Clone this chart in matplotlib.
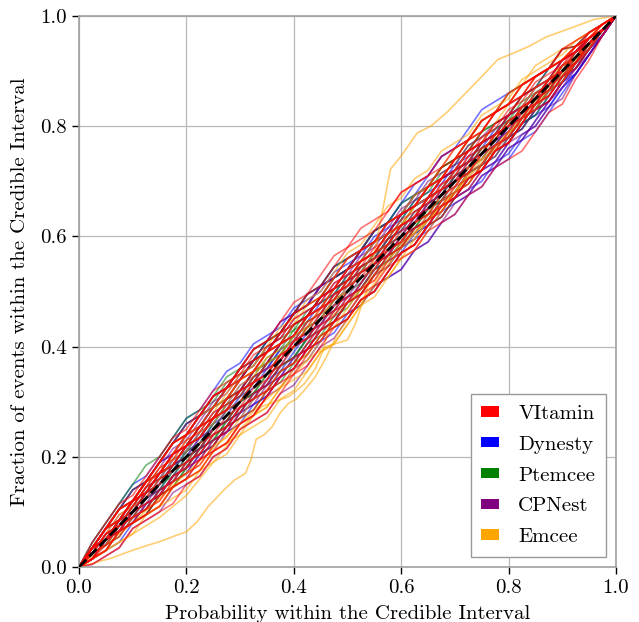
import matplotlib
matplotlib.use("Agg")
import matplotlib.pyplot as plt
import matplotlib.patches as mpatches
import matplotlib.ticker as mticker
import numpy as np

plt.rcParams["font.family"] = ["cmr10", "DejaVu Serif"]
plt.rcParams["mathtext.fontset"] = "cm"
plt.rcParams["axes.formatter.use_mathtext"] = True

# Credible-interval levels (x) at which every P-P curve is evaluated
pp_grid = [0.000, 0.025, 0.050, 0.075, 0.100, 0.125, 0.150, 0.175, 0.200, 0.225,
           0.250, 0.275, 0.300, 0.325, 0.350, 0.375, 0.400, 0.425, 0.450, 0.475,
           0.500, 0.525, 0.550, 0.575, 0.600, 0.625, 0.650, 0.675, 0.700, 0.725,
           0.750, 0.775, 0.800, 0.825, 0.850, 0.875, 0.900, 0.925, 0.950, 0.975,
           1.000]

# Offset of each curve from the diagonal (units of 0.01) at the interior levels,
# one row per source parameter
vitamin_dev = [
    [1, 2, 1, 2, 3, 2, 3, 4, 3, 4, 5, 4, 5, 4, 5, 6, 5, 4, 5, 6, 5, 4, 5, 4, 3, 4, 3, 4, 3, 2, 3, 2, 3, 2, 1, 2, 1, 1, 0],
    [-1, -1, -2, -1, -2, -3, -2, -3, -4, -3, -2, -3, -4, -3, -4, -5, -4, -3, -4, -5, -4, -5, -4, -3, -4, -3, -2, -3, -4, -3, -2, -3, -2, -1, -2, -1, -1, 0, 0],
    [1, 2, 3, 2, 3, 4, 5, 4, 5, 6, 5, 6, 7, 6, 5, 6, 7, 6, 7, 8, 7, 6, 7, 8, 7, 6, 5, 6, 5, 4, 5, 4, 3, 4, 3, 2, 2, 1, 1],
    [0, 1, 0, -1, 0, 1, 0, -1, -2, -1, 0, -1, -2, -1, 0, 1, 0, 1, 2, 1, 2, 1, 0, 1, 0, -1, 0, -1, 0, 1, 0, 1, 0, -1, 0, 0, 1, 0, 0],
    [1, 0, 1, 2, 1, 2, 3, 2, 1, 2, 3, 2, 3, 4, 3, 4, 3, 2, 3, 2, 3, 2, 1, 2, 1, 2, 1, 0, 1, 2, 1, 0, 1, 0, 1, 0, 0, 1, 0],
    [-1, 0, -1, -2, -1, -2, -1, -2, -3, -2, -3, -2, -1, -2, -1, -2, -3, -2, -3, -4, -3, -4, -3, -4, -5, -4, -5, -6, -5, -6, -5, -6, -7, -6, -5, -6, -4, -3, -1],
    [1, 2, 1, 2, 1, 2, 3, 2, 3, 2, 1, 2, 1, 2, 3, 2, 3, 4, 3, 4, 5, 4, 5, 4, 3, 4, 3, 4, 5, 4, 5, 4, 3, 4, 3, 2, 1, 2, 1],
    [0, 1, 0, 1, 2, 1, 0, -1, 0, -1, -2, -1, -2, -3, -2, -3, -2, -1, -2, -1, -2, -1, 0, -1, 0, 1, 2, 1, 2, 3, 2, 3, 2, 3, 2, 1, 2, 1, 0],
    [-1, 0, -1, 0, -1, -2, -1, -2, -1, 0, -1, 0, 1, 0, 1, 0, -1, 0, -1, 0, 1, 0, 1, 2, 1, 2, 3, 2, 3, 2, 1, 2, 1, 0, 1, 0, -1, 0, 0],
    [1, 2, 3, 2, 3, 4, 5, 4, 5, 6, 5, 6, 5, 4, 5, 4, 3, 4, 3, 4, 3, 2, 3, 2, 1, 2, 1, 2, 1, 0, 1, 0, -1, 0, -1, 0, 0, 1, 0],
    [-1, -2, -1, -2, -3, -4, -3, -4, -3, -4, -5, -4, -5, -4, -3, -4, -3, -2, -3, -2, -3, -2, -1, -2, -1, -2, -3, -2, -3, -2, -1, -2, -1, 0, -1, 0, -1, 0, 0],
    [1, 0, 1, 2, 1, 2, 1, 2, 3, 2, 3, 4, 3, 4, 3, 2, 3, 2, 1, 2, 1, 0, 1, 2, 1, 2, 3, 4, 3, 4, 5, 4, 5, 4, 3, 4, 2, 2, 1],
    [0, -1, 0, -1, -2, -1, -2, -1, -2, -1, -2, -1, 0, -1, 0, 1, 2, 1, 2, 1, 0, 1, 0, -1, 0, -1, -2, -1, -2, -3, -2, -3, -2, -1, -2, -1, -2, -1, 0],
    [1, 2, 3, 2, 3, 4, 5, 4, 5, 6, 5, 6, 7, 6, 7, 8, 7, 8, 9, 8, 9, 8, 7, 8, 7, 6, 7, 6, 5, 6, 5, 4, 5, 4, 3, 2, 2, 1, 1],
    [-1, 0, -1, 0, 1, 0, 1, 2, 1, 2, 1, 0, 1, 0, -1, 0, -1, -2, -1, -2, -1, 0, -1, 0, 1, 0, 1, 0, -1, 0, -1, -2, -1, -2, -3, -2, -1, -1, 0],
    [1, 0, 1, 0, 1, 2, 1, 2, 1, 2, 1, 2, 1, 0, 1, 0, 1, 2, 1, 2, 3, 2, 3, 4, 3, 4, 5, 4, 5, 6, 5, 6, 5, 4, 3, 4, 3, 2, 1],
    [0, 1, 0, 1, 2, 3, 2, 3, 2, 3, 2, 1, 2, 1, 0, 1, 0, -1, 0, -1, -2, -3, -2, -3, -4, -3, -4, -3, -2, -3, -2, -1, 0, -1, 0, 1, 1, 0, 0],
    [-1, -2, -1, -2, -3, -2, -3, -4, -5, -4, -5, -4, -5, -4, -3, -4, -3, -4, -3, -2, -3, -2, -1, -2, -1, -2, -1, 0, -1, 0, 1, 0, 1, 0, 1, 0, 1, 0, 0],
    [2, 3, 4, 3, 4, 5, 6, 5, 6, 7, 6, 5, 6, 5, 4, 5, 4, 3, 4, 3, 2, 3, 2, 3, 2, 1, 2, 1, 2, 1, 0, 1, 0, 1, 0, 1, 0, 0, 0],
    [-2, -3, -4, -3, -4, -5, -6, -5, -6, -5, -6, -5, -6, -7, -6, -5, -6, -5, -4, -5, -4, -5, -4, -3, -4, -3, -2, -3, -2, -3, -2, -3, -2, -1, -2, -1, -1, 0, 0],
]

dynesty_dev = [
    [1, 2, 1, 2, 3, 4, 3, 4, 5, 4, 5, 6, 5, 6, 7, 6, 7, 6, 7, 6, 5, 6, 5, 4, 5, 4, 3, 2, 3, 2, 1, 0, 1, 0, -1, 0, -1, -1, 0],
    [-1, 0, -1, -2, -1, -2, -1, -2, -3, -2, -3, -4, -3, -4, -3, -4, -5, -4, -5, -4, -5, -4, -5, -6, -5, -6, -5, -6, -5, -6, -5, -4, -5, -4, -3, -2, -3, -2, -1],
    [1, 2, 3, 2, 3, 2, 3, 4, 3, 4, 3, 4, 5, 4, 5, 6, 5, 6, 5, 4, 5, 4, 3, 4, 3, 2, 1, 2, 1, 0, -1, 0, -1, -2, -1, -2, -1, -1, 0],
    [0, -1, 0, -1, -2, -1, -2, -3, -2, -3, -2, -3, -2, -1, -2, -1, 0, -1, 0, -1, -2, -1, -2, -3, -2, -3, -4, -3, -4, -5, -4, -5, -4, -5, -4, -3, -3, -2, -1],
    [1, 0, 1, 2, 1, 2, 3, 2, 3, 4, 5, 4, 5, 6, 5, 6, 7, 6, 7, 6, 5, 6, 5, 6, 7, 6, 7, 6, 5, 6, 5, 4, 3, 2, 3, 2, 1, 1, 0],
    [0, 1, 0, 1, 0, -1, 0, 1, 0, 1, 2, 1, 2, 1, 0, 1, 0, -1, 0, -1, -2, -1, -2, -1, -2, -3, -2, -3, -4, -3, -4, -3, -2, -3, -2, -1, -2, -1, 0],
    [-1, 0, -1, 0, 1, 2, 1, 2, 1, 2, 3, 2, 3, 2, 3, 2, 3, 4, 3, 4, 3, 4, 3, 2, 3, 2, 3, 2, 1, 2, 1, 0, 1, 0, 1, 0, 0, 1, 0],
    [1, 2, 1, 2, 3, 2, 1, 2, 1, 0, -1, 0, -1, -2, -1, -2, -1, -2, -3, -2, -3, -2, -3, -2, -3, -4, -3, -4, -5, -4, -5, -6, -5, -6, -5, -4, -3, -2, -1],
    [-1, -2, -3, -2, -3, -2, -1, -2, -1, -2, -3, -2, -3, -4, -3, -4, -3, -2, -3, -2, -1, 0, -1, 0, 1, 0, -1, 0, -1, -2, -1, -2, -3, -2, -3, -2, -2, -1, -1],
    [1, 2, 3, 4, 3, 4, 5, 6, 5, 6, 5, 4, 5, 4, 5, 6, 5, 6, 5, 4, 5, 4, 3, 4, 3, 2, 1, 2, 1, 0, -1, 0, -1, -2, -1, -2, -1, -1, 0],
    [0, 1, 0, 1, 2, 1, 2, 1, 2, 3, 2, 3, 2, 1, 2, 1, 2, 3, 2, 3, 2, 1, 2, 1, 0, 1, 0, -1, 0, -1, -2, -3, -2, -3, -4, -3, -3, -2, -1],
    [-1, 0, -1, -2, -1, -2, -1, 0, -1, 0, -1, -2, -1, -2, -3, -2, -3, -4, -3, -4, -3, -2, -3, -2, -3, -2, -1, -2, -1, -2, -1, -2, -1, 0, -1, 0, 0, 0, 0],
    [1, 0, 1, 2, 1, 0, 1, 0, 1, 2, 1, 2, 3, 2, 3, 4, 3, 4, 5, 4, 5, 4, 5, 6, 5, 6, 7, 6, 7, 8, 7, 6, 5, 4, 3, 4, 2, 2, 1],
    [0, -1, 0, -1, 0, 1, 2, 1, 2, 1, 0, 1, 0, 1, 2, 1, 2, 1, 0, 1, 0, -1, 0, -1, 0, 1, 0, 1, 0, -1, 0, -1, 0, -1, 0, -1, 0, 0, 0],
    [2, 3, 4, 5, 4, 5, 6, 7, 6, 7, 8, 7, 8, 7, 6, 7, 6, 5, 6, 5, 4, 5, 4, 3, 4, 3, 2, 3, 2, 1, 2, 1, 0, 1, 0, -1, 0, 0, 0],
]

ptemcee_dev = [
    [1, 2, 3, 2, 3, 4, 5, 4, 5, 4, 5, 6, 5, 6, 5, 6, 7, 6, 7, 6, 5, 6, 5, 4, 5, 4, 5, 4, 3, 4, 3, 2, 3, 2, 1, 2, 1, 1, 0],
    [-1, 0, -1, -2, -3, -2, -3, -2, -1, -2, -1, -2, -1, 0, -1, -2, -1, -2, -3, -2, -3, -2, -1, -2, -1, -2, -3, -2, -3, -2, -1, -2, -1, -2, -1, 0, -1, 0, 0],
    [1, 0, 1, 2, 3, 2, 3, 2, 3, 4, 3, 4, 5, 4, 5, 4, 3, 4, 3, 2, 3, 2, 3, 4, 3, 4, 5, 4, 5, 6, 5, 6, 5, 4, 3, 4, 2, 2, 1],
    [0, -1, 0, -1, 0, -1, -2, -1, -2, -3, -2, -3, -4, -3, -4, -3, -2, -3, -2, -3, -2, -1, -2, -1, 0, -1, 0, 1, 0, 1, 0, 1, 0, -1, 0, -1, 0, 0, 0],
    [1, 0, 1, 0, 1, 2, 1, 2, 3, 2, 3, 2, 1, 2, 1, 2, 3, 2, 3, 2, 1, 2, 1, 0, -1, 0, -1, -2, -1, -2, -1, -2, -1, -2, -1, -2, -1, -1, 0],
    [-1, -2, -1, -2, -3, -2, -3, -2, -1, -2, -1, 0, -1, 0, 1, 0, 1, 0, 1, 2, 1, 2, 1, 2, 1, 2, 1, 2, 1, 2, 1, 2, 1, 0, 1, 0, 1, 0, 0],
    [1, 2, 3, 4, 3, 4, 5, 6, 5, 6, 7, 6, 7, 6, 5, 6, 5, 4, 5, 4, 3, 4, 3, 2, 3, 2, 3, 2, 1, 2, 1, 2, 1, 0, 1, 0, 0, 0, 0],
    [0, 1, 0, 1, 2, 1, 0, 1, 0, -1, -2, -1, -2, -3, -2, -3, -4, -3, -4, -5, -4, -5, -4, -3, -4, -3, -4, -3, -2, -3, -2, -3, -2, -3, -2, -1, -2, -1, 0],
    [1, 0, 1, 0, 1, 0, 1, 2, 1, 2, 3, 2, 3, 2, 3, 4, 3, 4, 5, 4, 5, 6, 5, 6, 5, 4, 5, 4, 3, 4, 3, 2, 3, 2, 3, 2, 1, 1, 0],
    [-1, 0, -1, 0, 1, 0, 1, 0, -1, 0, 1, 0, 1, 2, 1, 2, 1, 0, 1, 0, -1, 0, -1, -2, -1, -2, -1, 0, -1, 0, 1, 0, 1, 0, -1, 0, -1, 0, 0],
    [0, -1, -2, -1, -2, -1, 0, -1, 0, 1, 2, 1, 2, 3, 2, 3, 2, 1, 2, 1, 2, 1, 2, 3, 4, 3, 4, 3, 4, 3, 2, 1, 2, 1, 0, 1, 0, 0, 0],
    [1, 2, 1, 2, 1, 0, -1, 0, -1, 0, -1, 0, -1, -2, -1, -2, -1, 0, -1, 0, 1, 0, 1, 0, -1, 0, -1, -2, -1, -2, -3, -2, -3, -2, -1, -2, -1, -1, 0],
    [2, 3, 4, 5, 6, 5, 6, 7, 6, 5, 6, 5, 4, 5, 4, 3, 4, 3, 2, 3, 2, 1, 2, 1, 2, 1, 0, 1, 0, 1, 0, 1, 0, 1, 0, 1, 0, 0, 0],
]

cpnest_dev = [
    [1, 2, 3, 4, 3, 4, 5, 6, 5, 6, 5, 6, 7, 6, 7, 6, 5, 6, 5, 4, 5, 4, 3, 4, 3, 2, 3, 2, 3, 2, 1, 2, 1, 0, 1, 0, 0, 0, 0],
    [-1, -2, -1, -2, -3, -4, -3, -4, -3, -4, -3, -4, -5, -4, -5, -4, -3, -4, -3, -4, -5, -4, -5, -6, -5, -6, -5, -4, -5, -4, -5, -4, -5, -4, -3, -3, -2, -2, -1],
    [1, 0, 1, 2, 3, 2, 3, 4, 3, 4, 3, 4, 5, 4, 5, 6, 5, 6, 5, 6, 5, 6, 5, 4, 5, 4, 3, 2, 3, 2, 1, 0, 1, 0, 1, 0, 0, 0, 0],
    [0, 1, 0, 1, 0, -1, -2, -1, -2, -1, -2, -1, -2, -3, -2, -3, -2, -1, -2, -1, 0, -1, 0, -1, -2, -1, -2, -3, -2, -3, -4, -3, -4, -5, -4, -5, -3, -2, -1],
    [1, 0, 1, 0, 1, 2, 1, 0, 1, 0, 1, 2, 1, 2, 3, 2, 3, 2, 3, 2, 3, 4, 3, 4, 3, 2, 3, 2, 3, 2, 3, 2, 1, 2, 1, 2, 1, 1, 0],
    [-1, 0, -1, 0, 1, 0, 1, 0, -1, 0, -1, -2, -1, -2, -1, 0, -1, 0, 1, 0, 1, 0, -1, 0, -1, -2, -1, -2, -1, -2, -3, -2, -3, -2, -3, -2, -1, -1, 0],
    [1, 2, 3, 2, 3, 4, 3, 4, 5, 4, 5, 4, 3, 4, 3, 2, 3, 2, 1, 2, 1, 2, 1, 2, 1, 0, 1, 0, 1, 0, -1, 0, -1, -2, -1, -2, -1, -1, 0],
    [0, -1, 0, -1, -2, -1, -2, -3, -2, -3, -2, -1, -2, -1, 0, 1, 0, 1, 2, 1, 2, 1, 2, 1, 2, 1, 0, 1, 0, -1, 0, -1, 0, 1, 0, 1, 0, 0, 0],
    [1, 2, 1, 2, 3, 2, 3, 2, 3, 2, 1, 2, 1, 0, 1, 0, -1, 0, -1, 0, 1, 0, 1, 0, 1, 2, 1, 2, 1, 2, 1, 2, 1, 2, 1, 2, 1, 1, 0],
    [-1, 0, -1, 0, -1, 0, 1, 2, 1, 2, 3, 2, 3, 4, 3, 4, 3, 4, 3, 4, 3, 2, 3, 2, 1, 0, 1, 0, -1, 0, -1, -2, -1, -2, -3, -2, -2, -1, -1],
    [0, 1, 2, 1, 2, 3, 4, 3, 4, 5, 4, 5, 4, 5, 4, 5, 4, 3, 4, 3, 4, 3, 4, 5, 4, 5, 4, 3, 4, 3, 3, 2, 3, 2, 1, 2, 1, 1, 0],
    [1, 0, -1, 0, -1, -2, -1, -2, -1, -2, -3, -2, -3, -2, -3, -2, -3, -2, -1, -2, -1, 0, -1, 0, -1, -2, -1, -2, -1, -2, -1, 0, -1, 0, -1, 0, -1, 0, 0],
    [-2, -3, -4, -3, -4, -5, -4, -5, -6, -5, -6, -5, -6, -7, -6, -7, -6, -5, -6, -5, -4, -5, -4, -3, -4, -3, -2, -3, -2, -3, -2, -1, -2, -1, 0, -1, 0, 0, 0],
]

emcee_dev = [
    [1, 2, 1, 2, 3, 2, 3, 4, 3, 2, 3, 4, 3, 4, 3, 2, 3, 2, 3, 4, 3, 4, 3, 2, 1, 2, 1, 2, 3, 2, 3, 4, 3, 4, 3, 2, 2, 1, 1],
    [-1, -2, -1, -2, -3, -4, -3, -4, -5, -4, -5, -6, -5, -6, -5, -4, -5, -4, -3, -4, -3, -2, -3, -2, -3, -2, -1, -2, -1, 0, 1, 0, 1, 0, 1, 0, 0, 0, 0],
    [1, 2, 3, 2, 3, 2, 1, 2, 1, 2, 1, 2, 1, 0, 1, 0, 1, 2, 1, 2, 3, 2, 3, 2, 3, 4, 3, 4, 5, 6, 5, 6, 5, 6, 5, 4, 3, 2, 1],
    [0, -1, 0, -1, -2, -3, -2, -3, -4, -3, -4, -3, -2, -3, -2, -3, -4, -3, -4, -3, -2, -3, -2, -1, 0, -1, 0, -1, 0, -1, -2, -1, -2, -1, -2, -1, -1, 0, 0],
    [1, 0, 1, 2, 1, 2, 3, 4, 3, 4, 3, 4, 3, 2, 1, 2, 1, 0, 1, 0, 1, 2, 1, 2, 3, 2, 3, 4, 5, 4, 5, 4, 5, 4, 3, 2, 2, 1, 0],
    [-1, -2, -1, -2, -3, -4, -3, -4, -5, -4, -5, -4, -5, -6, -5, -6, -7, -6, -7, -6, -5, -6, -5, -4, -5, -4, -3, -2, -3, -2, -1, -2, -1, -2, -1, -2, -1, -1, 0],
    [0, 1, 0, 1, 0, 1, 2, 1, 2, 1, 2, 3, 2, 3, 2, 1, 2, 1, 0, 1, 0, -1, 0, -1, -2, -1, -2, -1, 0, -1, 0, 1, 0, 1, 0, 1, 0, 0, 0],
    [-1, -2, -3, -4, -3, -4, -5, -6, -5, -6, -7, -6, -7, -8, -7, -8, -7, -6, -7, -6, -5, -4, -5, -4, -3, -2, -3, -2, -1, 0, 1, 0, 1, 2, 1, 1, 0, 0, 0],
    [1, 2, 3, 2, 3, 4, 5, 4, 5, 4, 5, 4, 3, 4, 3, 4, 5, 4, 5, 6, 5, 4, 5, 4, 5, 4, 5, 6, 5, 6, 5, 4, 5, 4, 3, 2, 2, 1, 1],
    [0, 1, 2, 1, 2, 3, 2, 3, 2, 3, 4, 5, 4, 5, 6, 5, 6, 5, 6, 7, 6, 7, 8, 7, 8, 7, 8, 7, 6, 7, 6, 5, 6, 5, 4, 3, 3, 2, 1],
]

# Emcee parameters that stray far from the diagonal
emcee_low_a_x = [0, 0.03, 0.06, 0.09, 0.12, 0.15, 0.18, 0.20, 0.22, 0.24, 0.27, 0.29, 0.31,
                 0.32, 0.33, 0.345, 0.36, 0.375, 0.39, 0.405, 0.42, 0.44, 0.46, 0.48, 0.50,
                 0.55, 0.60, 0.65, 0.70, 0.75, 0.80, 0.85, 0.90, 0.95, 1]
emcee_low_a_y = [0, 0.008, 0.016, 0.027, 0.037, 0.046, 0.057, 0.064, 0.082, 0.109, 0.140,
                 0.158, 0.170, 0.194, 0.232, 0.240, 0.255, 0.280, 0.297, 0.305, 0.321, 0.345,
                 0.380, 0.420, 0.450, 0.515, 0.580, 0.630, 0.680, 0.740, 0.790, 0.845, 0.900,
                 0.950, 1]
emcee_low_b_x = [0, 0.05, 0.10, 0.15, 0.20, 0.225, 0.25, 0.275, 0.30, 0.32, 0.34, 0.365,
                 0.39, 0.405, 0.42, 0.44, 0.455, 0.47, 0.50, 0.55, 0.60, 0.65, 0.70, 0.775,
                 0.85, 0.925, 1]
emcee_low_b_y = [0, 0.030, 0.060, 0.090, 0.130, 0.160, 0.190, 0.220, 0.250, 0.270, 0.291,
                 0.300, 0.309, 0.320, 0.333, 0.360, 0.394, 0.454, 0.480, 0.530, 0.585, 0.630,
                 0.680, 0.760, 0.840, 0.920, 1]
emcee_high_x = [0, 0.05, 0.10, 0.15, 0.20, 0.25, 0.30, 0.35, 0.40, 0.43, 0.46, 0.50, 0.515,
                0.54, 0.56, 0.58, 0.60, 0.63, 0.655, 0.685, 0.715, 0.745, 0.78, 0.81, 0.84,
                0.87, 0.91, 0.96, 1]
emcee_high_y = [0, 0.040, 0.080, 0.125, 0.170, 0.215, 0.260, 0.305, 0.350, 0.380, 0.400,
                0.412, 0.442, 0.515, 0.620, 0.722, 0.746, 0.788, 0.800, 0.825, 0.855, 0.885,
                0.921, 0.933, 0.946, 0.962, 0.976, 0.994, 1]

# Expected scatter band around the diagonal
band_x = [0.00, 0.05, 0.10, 0.15, 0.20, 0.25, 0.30, 0.35, 0.40, 0.45, 0.50,
          0.55, 0.60, 0.65, 0.70, 0.75, 0.80, 0.85, 0.90, 0.95, 1.00]
band_halfwidth = [0, 0.010, 0.014, 0.017, 0.019, 0.020, 0.021, 0.022, 0.022, 0.022, 0.022,
                  0.022, 0.022, 0.022, 0.021, 0.020, 0.019, 0.017, 0.014, 0.010, 0]

sampler_names = ["VItamin", "Dynesty", "Ptemcee", "CPNest", "Emcee"]
sampler_colors = ["red", "blue", "green", "purple", "orange"]

fig = plt.figure(figsize=(6.39, 6.22), dpi=100)
ax = fig.add_axes([0.1236, 0.0884, 0.8404, 0.8859])

grid = np.array(pp_grid)


def pp_curve(dev_row):
    y = grid.copy()
    y[1:-1] = grid[1:-1] + np.array(dev_row) / 100.0
    return y


line_kw = dict(lw=1.2, alpha=0.55)

for row in dynesty_dev:
    ax.plot(grid, pp_curve(row), color="blue", **line_kw)
for row in ptemcee_dev:
    ax.plot(grid, pp_curve(row), color="green", **line_kw)
for row in cpnest_dev:
    ax.plot(grid, pp_curve(row), color="purple", **line_kw)
for row in emcee_dev:
    ax.plot(grid, pp_curve(row), color="orange", **line_kw)
ax.plot(emcee_low_a_x, emcee_low_a_y, color="orange", **line_kw)
ax.plot(emcee_low_b_x, emcee_low_b_y, color="orange", **line_kw)
ax.plot(emcee_high_x, emcee_high_y, color="orange", **line_kw)
for row in vitamin_dev:
    ax.plot(grid, pp_curve(row), color="red", **line_kw)

bx = np.array(band_x)
bw = np.array(band_halfwidth)
ax.fill_between(bx, bx - bw, bx + bw, color="gray", alpha=0.12, lw=0, zorder=3)
ax.plot([0, 1], [0, 1], "k--", lw=2.0, zorder=4)

ax.set_xlim(0, 1)
ax.set_ylim(0, 1)
ax.set_xticks([0, 0.2, 0.4, 0.6, 0.8, 1.0])
ax.set_yticks([0, 0.2, 0.4, 0.6, 0.8, 1.0])
ax.xaxis.set_major_formatter(mticker.FormatStrFormatter("%.1f"))
ax.yaxis.set_major_formatter(mticker.FormatStrFormatter("%.1f"))
ax.tick_params(labelsize=15, direction="out", length=5, width=1, color="black")
ax.grid(True, color="#b8b8b8", lw=0.9)
ax.set_axisbelow(True)
for s in ax.spines.values():
    s.set_color("#a0a0a0")
    s.set_linewidth(1.2)

ax.set_xlabel("Probability within the Credible Interval", fontsize=15, labelpad=6)
ax.set_ylabel("Fraction of events within the Credible Interval", fontsize=15, labelpad=8)

handles = [mpatches.Patch(facecolor=c, edgecolor="none", lw=0, label=n)
           for n, c in zip(sampler_names, sampler_colors)]
leg = ax.legend(handles=handles, loc="lower right", fontsize=15, fancybox=False,
                framealpha=1, edgecolor="#999999", handlelength=0.87, handleheight=0.4,
                borderpad=0.5, labelspacing=0.62, handletextpad=0.9, borderaxespad=0.5)
leg.get_frame().set_linewidth(1.0)

fig.savefig("out.png", dpi=100)
